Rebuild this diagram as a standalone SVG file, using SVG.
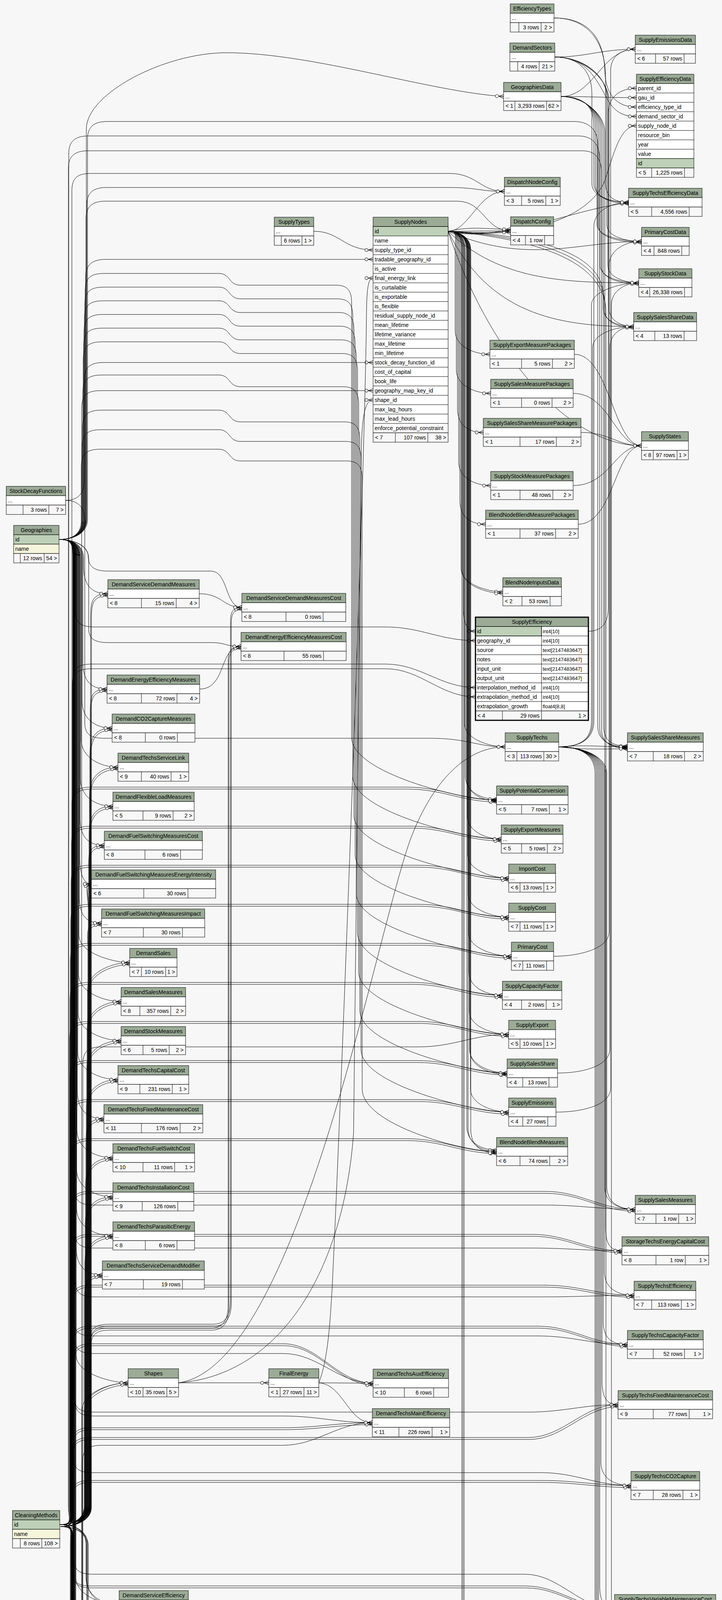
<svg xmlns="http://www.w3.org/2000/svg" width="1848" height="5893" viewBox="0 0 1848 5893">
<style>
.n rect{stroke:#000;stroke-width:1}
.n text{font-family:"Liberation Sans",Arial,Helvetica,sans-serif;font-size:14px;fill:#000}
.n path{fill:none;stroke:#000;stroke-width:1}
.h{fill:#9bab96}.b{fill:#fff}.f{fill:#f7f7f7}.k{fill:#bed1b8}.i{fill:#f5f5dc}
.c{text-anchor:middle}.r{text-anchor:end}
.n .o{fill:none;stroke-width:3}
.n .ty{font-size:13px}
.gen{font-family:"Liberation Sans",Arial,Helvetica,sans-serif;font-size:14px;fill:#000}
</style>
<defs>
<marker id="m" markerUnits="userSpaceOnUse" markerWidth="30" markerHeight="20" refX="24" refY="10" orient="auto" overflow="visible"><path d="M11 10H24M12 10L24 5M12 10L24 15" fill="none" stroke="#000" stroke-width="1"/><circle cx="7" cy="10" r="4" fill="#fff" stroke="#000" stroke-width="1"/></marker>
</defs>
<rect width="1848" height="5893" fill="#f7f7f7"/>
<g id="connectors" fill="none" stroke="#000" stroke-width="1" marker-end="url(#m)">
<g id="cm2">
<path d="M153 3903C188 3903 232 3889 232 3854L232 1590C232 1545 231 1520 276 1520"/>
<path d="M153 3903C188 3903 231 3889 231 3854L231 1834C231 1789 229 1764 274 1764"/>
<path d="M153 3903C188 3903 230 3889 230 3854L230 1934C230 1889 242 1864 287 1864"/>
<path d="M153 3903C188 3903 229 3889 229 3854L229 2034C229 1989 257 1964 302 1964"/>
<path d="M153 3903C188 3903 228 3889 228 3854L228 2134C228 2089 244 2064 289 2064"/>
<path d="M153 3903C188 3903 227 3889 227 3854L227 2234C227 2189 222 2164 267 2164"/>
<path d="M153 3903C188 3903 226 3889 226 3854L226 2333C226 2288 214 2263 234 2263"/>
<path d="M153 3903C188 3903 225 3889 225 3854L225 2433C225 2388 215 2363 260 2363"/>
<path d="M153 3903C188 3903 224 3889 224 3854L224 2534C224 2489 287 2464 332 2464"/>
<path d="M153 3903C188 3903 223 3889 223 3854L223 2634C223 2589 265 2564 310 2564"/>
<path d="M153 3903C188 3903 222 3889 222 3854L222 2734C222 2689 265 2664 310 2664"/>
<path d="M153 3903C188 3903 221 3889 221 3854L221 2834C221 2789 257 2764 302 2764"/>
<path d="M153 3903C188 3903 220 3889 220 3854L220 2934C220 2889 221 2864 266 2864"/>
<path d="M153 3903C188 3903 219 3889 219 3854L219 3034C219 2989 244 2964 289 2964"/>
<path d="M153 3903C188 3903 218 3889 218 3854L218 3134C218 3089 244 3064 289 3064"/>
<path d="M153 3903C188 3903 217 3889 217 3854L217 3234C217 3189 244 3164 289 3164"/>
<path d="M153 3903C188 3903 216 3889 216 3854L216 3334C216 3289 217 3264 262 3264"/>
<path d="M153 3903C188 3903 216 3889 216 3854L216 3610C216 3565 283 3540 328 3540"/>
<path d="M153 3903C188 3903 220 3917 220 3952L220 4038C220 4083 260 4108 305 4108"/>
<path d="M153 3903C188 3903 224 3917 224 3952L224 4950C224 4995 283 5020 328 5020"/>
<path d="M153 3903C188 3903 184 3889 184 3854L184 2060C184 2025 199 2015 234 2015L1041 2015C1131 2015 1181 2048 1271 2048"/>
<path d="M153 3903C188 3903 183 3889 183 3854L183 2160C183 2125 198 2115 233 2115L1053 2115C1143 2115 1193 2148 1283 2148"/>
<path d="M153 3903C188 3903 182 3889 182 3854L182 2260C182 2225 197 2215 232 2215L1072 2215C1162 2215 1212 2248 1302 2248"/>
<path d="M153 3903C188 3903 181 3889 181 3854L181 2360C181 2325 196 2315 231 2315L1072 2315C1162 2315 1212 2348 1302 2348"/>
<path d="M153 3903C188 3903 180 3889 180 3854L180 2460C180 2425 195 2415 230 2415L1079 2415C1169 2415 1219 2448 1309 2448"/>
<path d="M153 3903C188 3903 179 3889 179 3854L179 2560C179 2525 194 2515 229 2515L1056 2515C1146 2515 1196 2548 1286 2548"/>
<path d="M153 3903C188 3903 178 3889 178 3854L178 2660C178 2625 193 2615 228 2615L1072 2615C1162 2615 1212 2648 1302 2648"/>
<path d="M153 3903C188 3903 179 3889 179 3854L179 2760C179 2725 194 2715 229 2715L1068 2715C1158 2715 1208 2747 1298 2747"/>
<path d="M153 3903C188 3903 180 3889 180 3854L180 2860C180 2825 195 2815 230 2815L1072 2815C1162 2815 1212 2847 1302 2847"/>
<path d="M153 3903C188 3903 181 3889 181 3854L181 2960C181 2925 196 2915 231 2915L1041 2915C1131 2915 1181 2948 1271 2948"/>
<path d="M153 3903C188 3903 182 3889 182 3854L182 3095C182 3060 197 3050 232 3050L1396 3050C1486 3050 1536 3096 1626 3096"/>
<path d="M153 3903C188 3903 183 3889 183 3854L183 3205C183 3170 198 3160 233 3160L1362 3160C1452 3160 1502 3202 1592 3202"/>
<path d="M153 3903C188 3903 184 3889 184 3854L184 3335C184 3300 199 3290 234 3290L1393 3290C1483 3290 1533 3316 1623 3316"/>
<path d="M153 3903C188 3903 185 3889 185 3854L185 3440C185 3405 200 3395 235 3395L1376 3395C1466 3395 1516 3442 1606 3442"/>
<path d="M153 3903C188 3903 186 3889 186 3854L186 3485C186 3450 201 3440 236 3440L725 3440C815 3440 865 3541 955 3541"/>
<path d="M153 3903C188 3903 184 3889 184 3854L184 3700C184 3665 199 3655 234 3655L723 3655C813 3655 863 3642 953 3642"/>
<path d="M153 3903C188 3903 183 3889 183 3854L183 3725C183 3690 198 3680 233 3680L1352 3680C1442 3680 1492 3596 1582 3596"/>
<path d="M153 3903C188 3903 182 3889 182 3854L182 3835C182 3800 197 3790 232 3790L1385 3790C1475 3790 1525 3803 1615 3803"/>
<path d="M153 3903C188 3903 183 3917 183 3952L183 4015C183 4050 198 4060 233 4060L1343 4060C1433 4060 1483 4118 1573 4118"/>
<path d="M153 3903C188 3903 184 3917 184 3952L184 4630C184 4665 199 4675 234 4675L1376 4675C1466 4675 1516 4649 1606 4649"/>
<path d="M153 3903C188 3903 185 3917 185 3952L185 4835C185 4870 200 4880 235 4880L435 4880C525 4880 575 4901 665 4901"/>
<path d="M153 3903C188 3903 186 3917 186 3952L186 4940C186 4975 201 4985 236 4985L434 4985C524 4985 574 5004 664 5004"/>
<path d="M153 3903C188 3903 180 3917 180 3952L180 4205C180 4240 195 4250 230 4250L1470 4250C1505 4250 1518 4265 1518 4300L1518 5012C1518 5052 1581 5072 1626 5072"/>
<path d="M153 3903C188 3903 181 3917 181 3952L181 5065C181 5100 196 5110 231 5110L458 5110C548 5110 598 5104 688 5104"/>
<path d="M153 3903C188 3903 182 3917 182 3952L182 5135C182 5170 197 5180 232 5180L1079 5180C1169 5180 1219 5159 1309 5159"/>
<path d="M153 3903C188 3903 183 3917 183 3952L183 4295C183 4330 198 4340 233 4340L1465 4340C1500 4340 1512 4355 1512 4390L1512 5153C1512 5193 1546 5213 1586 5213"/>
<path d="M153 3903C188 3903 184 3917 184 3952L184 5285C184 5320 199 5330 234 5330L1072 5330C1162 5330 1212 5312 1302 5312"/>
<path d="M153 3903C188 3903 185 3917 185 3952L185 5445C185 5480 200 5490 235 5490L1072 5490C1162 5490 1212 5469 1302 5469"/>
<path d="M153 3903C188 3903 186 3917 186 3952L186 4395C186 4430 201 4440 236 4440L1460 4440C1495 4440 1508 4455 1508 4490L1508 5615C1508 5655 1574 5675 1619 5675"/>
<path d="M153 3903C188 3903 230 3889 230 3854L230 3430C230 3400 245 3390 280 3390L545 3390C575 3390 590 3370 590 3330L590 1590C590 1565 597 1555 619 1555"/>
<path d="M153 3903C188 3903 231 3889 231 3854L231 3440C231 3410 246 3400 281 3400L540 3400C570 3400 584 3380 584 3340L584 1690C584 1665 593 1655 617 1655"/>
</g>
<use href="#cm2" transform="translate(2 5)"/>
<path d="M153 3903C188 3903 222 3917 222 3952L222 4502C222 4547 257 4572 302 4572"/>
<path d="M153 3903C188 3903 186 3889 186 3854L186 1745C186 1710 201 1700 236 1700L987 1700C1077 1700 1127 1760 1217 1760"/>
<path d="M153 3903C188 3903 185 3889 185 3854L185 1757C185 1722 200 1712 235 1712L987 1712C1077 1712 1127 1784 1217 1784"/>
<path d="M153 3903C188 3903 184 3889 184 3854L184 489C184 454 199 444 234 444L1150 444C1220 444 1230 490 1291 490"/>
<path d="M153 3903C188 3903 176 3889 176 3854L176 393C176 363 191 348 226 348L1480 348C1515 348 1535 368 1535 408L1535 1865C1535 1898 1565 1914 1606 1914"/>
<path d="M153 3903C188 3903 175 3889 175 3854L175 431C175 401 190 386 225 386L1490 386C1525 386 1540 406 1540 446L1540 1870C1540 1903 1570 1916 1606 1916"/>
<path d="M151 1381C186 1381 214 1395 214 1430L214 1450C214 1495 231 1520 276 1520"/>
<path d="M151 1381C186 1381 212 1395 212 1430L212 1694C212 1739 229 1764 274 1764"/>
<path d="M151 1381C186 1381 210 1395 210 1430L210 1794C210 1839 242 1864 287 1864"/>
<path d="M151 1381C186 1381 208 1395 208 1430L208 1894C208 1939 257 1964 302 1964"/>
<path d="M151 1381C186 1381 206 1395 206 1430L206 1994C206 2039 244 2064 289 2064"/>
<path d="M151 1381C186 1381 205 1395 205 1430L205 2094C205 2139 222 2164 267 2164"/>
<path d="M151 1381C186 1381 204 1395 204 1430L204 2193C204 2238 214 2263 234 2263"/>
<path d="M151 1381C186 1381 203 1395 203 1430L203 2293C203 2338 215 2363 260 2363"/>
<path d="M151 1381C186 1381 202 1395 202 1430L202 2394C202 2439 287 2464 332 2464"/>
<path d="M151 1381C186 1381 201 1395 201 1430L201 2494C201 2539 265 2564 310 2564"/>
<path d="M151 1381C186 1381 200 1395 200 1430L200 2594C200 2639 265 2664 310 2664"/>
<path d="M151 1381C186 1381 199 1395 199 1430L199 2694C199 2739 257 2764 302 2764"/>
<path d="M151 1381C186 1381 198 1395 198 1430L198 2794C198 2839 221 2864 266 2864"/>
<path d="M151 1381C186 1381 197 1395 197 1430L197 2894C197 2939 244 2964 289 2964"/>
<path d="M151 1381C186 1381 196 1395 196 1430L196 2994C196 3039 244 3064 289 3064"/>
<path d="M151 1381C186 1381 196 1395 196 1430L196 3094C196 3139 244 3164 289 3164"/>
<path d="M151 1381C186 1381 195 1395 195 1430L195 3194C195 3239 217 3264 262 3264"/>
<path d="M151 1381C186 1381 195 1395 195 1430L195 3470C195 3515 283 3540 328 3540"/>
<path d="M151 1381C186 1381 194 1395 194 1430L194 4038C194 4083 260 4108 305 4108"/>
<path d="M151 1381C186 1381 194 1395 194 1430L194 4502C194 4547 257 4572 302 4572"/>
<path d="M151 1381C186 1381 193 1395 193 1430L193 4950C193 4995 283 5020 328 5020"/>
<path d="M151 1381C186 1381 192 1395 192 1430L192 1560C192 1595 207 1605 242 1605L987 1605C1077 1605 1127 1640 1217 1640"/>
<path d="M151 1381C186 1381 218 1367 218 1332L218 745C218 710 233 700 268 700L560 700C590 700 585 730 615 730L860 730C890 730 900 745 900 775L900 1888C900 1978 1181 2048 1271 2048"/>
<path d="M151 1381C186 1381 217 1367 217 1332L217 780C217 745 232 735 267 735L560 735C590 735 585 765 615 765L863 765C893 765 903 780 903 810L903 1988C903 2078 1193 2148 1283 2148"/>
<path d="M151 1381C186 1381 216 1367 216 1332L216 815C216 780 231 770 266 770L560 770C590 770 585 800 615 800L866 800C896 800 906 815 906 845L906 2088C906 2178 1212 2248 1302 2248"/>
<path d="M151 1381C186 1381 215 1367 215 1332L215 850C215 815 230 805 265 805L560 805C590 805 585 835 615 835L869 835C899 835 909 850 909 880L909 2188C909 2278 1212 2348 1302 2348"/>
<path d="M151 1381C186 1381 214 1367 214 1332L214 885C214 850 229 840 264 840L560 840C590 840 585 870 615 870L872 870C902 870 912 885 912 915L912 2288C912 2378 1219 2448 1309 2448"/>
<path d="M151 1381C186 1381 213 1367 213 1332L213 920C213 885 228 875 263 875L560 875C590 875 585 905 615 905L875 905C905 905 915 920 915 950L915 2388C915 2478 1196 2548 1286 2548"/>
<path d="M151 1381C186 1381 212 1367 212 1332L212 1005C212 970 227 960 262 960L560 960C590 960 585 990 615 990L878 990C908 990 918 1005 918 1035L918 2488C918 2578 1212 2648 1302 2648"/>
<path d="M151 1381C186 1381 211 1367 211 1332L211 1095C211 1060 226 1050 261 1050L560 1050C590 1050 585 1080 615 1080L881 1080C911 1080 921 1095 921 1125L921 2587C921 2677 1208 2747 1298 2747"/>
<path d="M151 1381C186 1381 210 1367 210 1332L210 1145C210 1110 225 1100 260 1100L560 1100C590 1100 585 1130 615 1130L884 1130C914 1130 924 1145 924 1175L924 2687C924 2777 1212 2847 1302 2847"/>
<path d="M151 1381C186 1381 208 1367 208 1332L208 1195C208 1160 223 1150 258 1150L560 1150C590 1150 585 1180 615 1180L887 1180C917 1180 927 1195 927 1225L927 2788C927 2878 1181 2948 1271 2948"/>
<path d="M151 1381C186 1381 190 1395 190 1430L190 3040C190 3075 205 3085 240 3085L1396 3085C1486 3085 1536 3096 1626 3096"/>
<path d="M151 1381C186 1381 191 1395 191 1430L191 3150C191 3185 206 3195 241 3195L1362 3195C1452 3195 1502 3202 1592 3202"/>
<path d="M151 1381C186 1381 192 1395 192 1430L192 3275C192 3310 207 3320 242 3320L1393 3320C1483 3320 1533 3316 1623 3316"/>
<path d="M151 1381C186 1381 188 1395 188 1430L188 3375C188 3410 203 3420 238 3420L1376 3420C1466 3420 1516 3442 1606 3442"/>
<path d="M151 1381C186 1381 190 1395 190 1430L190 3420C190 3455 205 3465 240 3465L725 3465C815 3465 865 3541 955 3541"/>
<path d="M151 1381C186 1381 189 1395 189 1430L189 3570C189 3605 204 3615 239 3615L1352 3615C1442 3615 1492 3596 1582 3596"/>
<path d="M151 1381C186 1381 191 1395 191 1430L191 3580C191 3615 206 3625 241 3625L723 3625C813 3625 863 3642 953 3642"/>
<path d="M151 1381C186 1381 187 1395 187 1430L187 3725C187 3760 202 3770 237 3770L1385 3770C1475 3770 1525 3803 1615 3803"/>
<path d="M151 1381C186 1381 188 1395 188 1430L188 3985C188 4020 203 4030 238 4030L1343 4030C1433 4030 1483 4118 1573 4118"/>
<path d="M151 1381C186 1381 189 1395 189 1430L189 4565C189 4600 204 4610 239 4610L1376 4610C1466 4610 1516 4649 1606 4649"/>
<path d="M151 1381C186 1381 190 1395 190 1430L190 4805C190 4840 205 4850 240 4850L435 4850C525 4850 575 4901 665 4901"/>
<path d="M151 1381C186 1381 191 1395 191 1430L191 4915C191 4950 206 4960 241 4960L434 4960C524 4960 574 5004 664 5004"/>
<path d="M151 1381C186 1381 186 1395 186 1430L186 4945C186 4980 201 4990 236 4990L1396 4990C1486 4990 1536 5072 1626 5072"/>
<path d="M151 1381C186 1381 192 1395 192 1430L192 5030C192 5065 207 5075 242 5075L458 5075C548 5075 598 5104 688 5104"/>
<path d="M151 1381C186 1381 187 1395 187 1430L187 5105C187 5140 202 5150 237 5150L1079 5150C1169 5150 1219 5159 1309 5159"/>
<path d="M151 1381C186 1381 188 1395 188 1430L188 5190C188 5225 203 5235 238 5235L1356 5235C1446 5235 1496 5213 1586 5213"/>
<path d="M151 1381C186 1381 189 1395 189 1430L189 5250C189 5285 204 5295 239 5295L1072 5295C1162 5295 1212 5312 1302 5312"/>
<path d="M151 1381C186 1381 190 1395 190 1430L190 5410C190 5445 205 5455 240 5455L1072 5455C1162 5455 1212 5469 1302 5469"/>
<path d="M151 1381C186 1381 191 1395 191 1430L191 5675C191 5710 206 5720 241 5720L1389 5720C1479 5720 1529 5675 1619 5675"/>
<path d="M151 1381C186 1381 221 1367 221 1330L221 330C221 240 420 135 580 135C800 135 1100 235 1289 247"/>
<path d="M151 1381C186 1381 219 1367 219 1330L219 710C219 680 234 664 270 664L955 664"/>
<path d="M151 1381C186 1381 222 1367 222 1330L222 525C222 495 237 480 272 480L1150 480C1220 480 1230 490 1291 490"/>
<path d="M151 1381C186 1381 220 1367 220 1330L220 560C220 530 235 515 270 515L1170 515C1240 515 1240 591 1307 591"/>
<path d="M151 1381C186 1381 224 1367 224 1330L224 356C224 326 239 311 274 311L1470 311C1505 311 1530 330 1530 370L1530 1860C1530 1895 1560 1912 1606 1912"/>
<path d="M151 1381C186 1381 226 1395 226 1425C226 1450 241 1462 276 1462L540 1462C585 1462 575 1555 619 1555"/>
<path d="M151 1381C186 1381 227 1395 227 1430L227 1610C227 1635 242 1645 277 1645L540 1645C580 1645 575 1655 617 1655"/>
<path d="M163 5368C198 5368 209 5354 209 5319L209 1045C209 1010 224 1000 259 1000L955 1000"/>
<path d="M163 5368C198 5368 210 5354 210 5319L210 3610C210 3565 283 3540 328 3540"/>
<path d="M163 5368C198 5368 211 5354 211 5319L211 3745C211 3710 226 3700 261 3700L723 3700C813 3700 863 3642 953 3642"/>
<path d="M163 5368C198 5368 212 5354 212 5319L212 2725C212 2690 227 2680 262 2680L1072 2680C1162 2680 1212 2648 1302 2648"/>
<path d="M163 5368C198 5368 213 5354 213 5319L213 4870C213 4835 228 4825 263 4825L435 4825C525 4825 575 4901 665 4901"/>
<path d="M163 5368C198 5368 214 5354 214 5319L214 4980C214 4945 229 4935 264 4935L434 4935C524 4935 574 5004 664 5004"/>
<path d="M163 5368C198 5368 215 5354 215 5319L215 5090C215 5045 283 5020 328 5020"/>
<path d="M163 5368C198 5368 216 5354 216 5319L216 5095C216 5060 231 5050 266 5050L458 5050C548 5050 598 5104 688 5104"/>
<path d="M163 5368C198 5368 217 5354 217 5319L217 5050C217 5015 232 5005 267 5005L1396 5005C1486 5005 1536 5072 1626 5072"/>
<path d="M163 5368C198 5368 218 5354 218 5319L218 5245C218 5210 233 5200 268 5200L1079 5200C1169 5200 1219 5159 1309 5159"/>
<path d="M163 5368C198 5368 219 5354 219 5319L219 5290C219 5255 234 5245 269 5245L1356 5245C1446 5245 1496 5213 1586 5213"/>
<path d="M163 5368C230 5368 240 5318 300 5318L1100 5318C1200 5318 1230 5312 1302 5312"/>
<path d="M163 5368C198 5368 221 5382 221 5417L221 5440C221 5460 236 5470 271 5470L1100 5470C1200 5470 1230 5469 1302 5469"/>
<path d="M163 5368C198 5368 222 5382 222 5417L222 5745C222 5780 237 5790 272 5790L1389 5790C1479 5790 1529 5675 1619 5675"/>
<path d="M168 1281C200 1281 216 1262 216 1230L216 970C216 940 231 928 266 928L955 928"/>
<path d="M168 1281C200 1281 217 1300 217 1330L217 1850C217 1880 232 1890 267 1890L1100 1890C1200 1890 1220 1912 1293 1912"/>
<path d="M1147 592C1200 592 1225 490 1291 490"/>
<path d="M1147 592C1210 592 1245 591 1307 591"/>
<path d="M1147 592C1210 578 1245 587 1307 587"/>
<path d="M1147 592C1210 606 1245 595 1307 595"/>
<path d="M1147 592C1350 610 1500 560 1545 470C1570 400 1585 322 1629 322"/>
<path d="M1147 592C1300 620 1480 530 1609 520"/>
<path d="M1147 592C1350 680 1480 618 1642 618"/>
<path d="M1147 592C1280 720 1450 724 1635 724"/>
<path d="M1147 592C1250 800 1420 836 1622 836"/>
<path d="M1147 592C1250 900 1450 1141 1642 1141"/>
<path d="M1147 592C1172 592 1165 605 1165 640L1165 847C1165 887 1214 907 1254 907"/>
<path d="M1147 592C1172 592 1168 605 1168 640L1168 947C1168 987 1216 1007 1256 1007"/>
<path d="M1147 592C1172 592 1171 605 1171 640L1171 1047C1171 1087 1197 1107 1237 1107"/>
<path d="M1147 592C1172 592 1174 605 1174 640L1174 1183C1174 1223 1216 1243 1256 1243"/>
<path d="M1147 592C1172 592 1177 605 1177 640L1177 1282C1177 1322 1203 1342 1243 1342"/>
<path d="M1147 592C1172 592 1180 605 1180 640L1180 1455C1180 1495 1247 1515 1287 1515"/>
<path d="M1147 592C1172 592 1183 605 1183 640L1183 1459C1183 1499 1247 1519 1287 1519"/>
<path d="M1147 592C1172 592 1186 605 1186 640L1186 1556C1186 1596 1196 1616 1217 1616"/>
<path d="M1147 592C1172 592 1189 605 1189 640L1189 1852C1189 1892 1253 1912 1293 1912"/>
<path d="M1147 592C1172 592 1191 605 1191 640L1191 1986C1191 2026 1231 2046 1271 2046"/>
<path d="M1147 592C1172 592 1194 605 1194 640L1194 1990C1194 2030 1231 2050 1271 2050"/>
<path d="M1147 592C1172 592 1196 605 1196 640L1196 2088C1196 2128 1243 2148 1283 2148"/>
<path d="M1147 592C1172 592 1197 605 1197 640L1197 2188C1197 2228 1262 2248 1302 2248"/>
<path d="M1147 592C1172 592 1198 605 1198 640L1198 2288C1198 2328 1262 2348 1302 2348"/>
<path d="M1147 592C1172 592 1199 605 1199 640L1199 2388C1199 2428 1269 2448 1309 2448"/>
<path d="M1147 592C1172 592 1200 605 1200 640L1200 2488C1200 2528 1246 2548 1286 2548"/>
<path d="M1147 592C1172 592 1201 605 1201 640L1201 2588C1201 2628 1262 2648 1302 2648"/>
<path d="M1147 592C1172 592 1202 605 1202 640L1202 2687C1202 2727 1258 2747 1298 2747"/>
<path d="M1147 592C1172 592 1203 605 1203 640L1203 2691C1203 2731 1258 2751 1298 2751"/>
<path d="M1147 592C1172 592 1204 605 1204 640L1204 2787C1204 2827 1262 2847 1302 2847"/>
<path d="M1147 592C1172 592 1195 605 1195 640L1195 2884C1195 2924 1231 2944 1271 2944"/>
<path d="M1147 592C1172 592 1198 605 1198 640L1198 2888C1198 2928 1231 2948 1271 2948"/>
<path d="M1147 592C1172 592 1205 605 1205 640L1205 2892C1205 2932 1231 2952 1271 2952"/>
<path d="M1147 592C1172 592 1188 605 1188 640L1188 5099C1188 5139 1269 5159 1309 5159"/>
<path d="M1147 592C1172 592 1185 605 1185 640L1185 5252C1185 5292 1262 5312 1302 5312"/>
<path d="M1147 592C1172 592 1182 605 1182 640L1182 5409C1182 5449 1262 5469 1302 5469"/>
<path d="M1147 592C1350 600 1545 640 1545 760L1545 1860C1545 1898 1570 1910 1606 1910"/>
<path d="M1147 592C1350 605 1548 650 1548 780L1548 3040C1548 3080 1585 3096 1626 3096"/>
<path d="M1147 592C1350 610 1551 660 1551 800L1551 5010C1551 5050 1590 5072 1626 5072"/>
<path d="M1436 247C1520 247 1540 126 1626 126"/>
<path d="M1436 247C1500 247 1560 250 1629 250"/>
<path d="M1436 247C1490 247 1520 270 1520 320L1520 470C1520 505 1565 518 1609 518"/>
<path d="M1436 247C1490 247 1524 272 1524 322L1524 475C1524 508 1568 521 1609 521"/>
<path d="M1436 247C1490 247 1528 275 1528 325L1528 575C1528 605 1595 618 1642 618"/>
<path d="M1436 247C1490 247 1532 278 1532 328L1532 580C1532 610 1600 621 1642 621"/>
<path d="M1436 247C1490 247 1536 280 1536 330L1536 680C1536 710 1590 724 1635 724"/>
<path d="M1436 247C1490 247 1540 283 1540 333L1540 685C1540 715 1595 727 1635 727"/>
<path d="M1436 247C1490 247 1544 286 1544 336L1544 790C1544 820 1580 836 1622 836"/>
<path d="M1436 247C1490 247 1548 289 1548 339L1548 795C1548 825 1585 839 1622 839"/>
<path d="M1420 146C1500 146 1540 126 1626 126"/>
<path d="M1420 146C1500 146 1525 200 1555 255C1575 288 1595 298 1629 298"/>
<path d="M1420 146C1480 146 1515 180 1515 240L1515 470C1515 505 1565 518 1609 518"/>
<path d="M1420 146C1490 146 1553 190 1553 250L1553 575C1553 605 1600 618 1642 618"/>
<path d="M1420 146C1490 146 1556 195 1556 255L1556 680C1556 710 1600 724 1635 724"/>
<path d="M1420 146C1490 146 1559 200 1559 260L1559 790C1559 820 1590 836 1622 836"/>
<path d="M1418 46C1500 46 1545 90 1548 180C1550 245 1580 274 1629 274"/>
<path d="M1418 46C1500 46 1550 100 1550 200L1550 470C1550 505 1575 518 1609 518"/>
<path d="M1430 1912C1490 1912 1520 1890 1520 1845L1520 580C1520 540 1565 518 1609 518"/>
<path d="M1430 1912C1500 1906 1540 1912 1606 1912"/>
<path d="M1430 1912C1500 1920 1540 1917 1606 1917"/>
<path d="M1430 1912C1490 1912 1553 1935 1553 1980L1553 3036C1553 3076 1581 3096 1626 3096"/>
<path d="M1430 1912C1490 1912 1550 1935 1550 1980L1550 3142C1550 3182 1560 3202 1592 3202"/>
<path d="M1430 1912C1490 1912 1547 1935 1547 1980L1547 3256C1547 3296 1578 3316 1623 3316"/>
<path d="M1430 1912C1490 1912 1544 1935 1544 1980L1544 3382C1544 3422 1561 3442 1606 3442"/>
<path d="M1430 1912C1490 1912 1541 1935 1541 1980L1541 3536C1541 3576 1552 3596 1582 3596"/>
<path d="M1430 1912C1490 1912 1538 1935 1538 1980L1538 3743C1538 3783 1570 3803 1615 3803"/>
<path d="M1430 1912C1490 1912 1535 1935 1535 1980L1535 4058C1535 4098 1545 4118 1573 4118"/>
<path d="M1430 1912C1490 1912 1532 1935 1532 1980L1532 4589C1532 4629 1561 4649 1606 4649"/>
<path d="M1430 1912C1490 1912 1529 1935 1529 1980L1529 5012C1529 5052 1581 5072 1626 5072"/>
<path d="M1430 1912C1490 1912 1526 1935 1526 1980L1526 5153C1526 5193 1546 5213 1586 5213"/>
<path d="M1430 1912C1490 1912 1523 1935 1523 1980L1523 5615C1523 5655 1574 5675 1619 5675"/>
<path d="M1430 1912C1490 1912 1517 1890 1517 1845L1517 890C1517 855 1575 836 1622 836"/>
<path d="M1430 1912C1490 1912 1514 1890 1514 1845L1514 780C1514 745 1590 724 1635 724"/>
<path d="M1506 1616C1540 1616 1557 1595 1557 1555L1557 290C1557 245 1590 226 1629 226"/>
<path d="M1417 2448C1480 2448 1559 2430 1559 2385L1559 680C1559 640 1600 618 1642 618"/>
<path d="M1427 2747C1490 2747 1561 2730 1561 2685L1561 890C1561 855 1590 836 1622 836"/>
<path d="M1423 2847C1490 2847 1563 2830 1563 2785L1563 180C1563 145 1590 126 1626 126"/>
<path d="M1417 5159C1480 5159 1565 5140 1565 5095L1565 780C1565 745 1600 724 1635 724"/>
<path d="M1470 907C1560 907 1570 1141 1642 1141"/>
<path d="M1467 1007C1560 1007 1575 1141 1642 1141"/>
<path d="M1487 1107C1560 1107 1580 1141 1642 1141"/>
<path d="M1467 1243C1560 1243 1575 1141 1642 1141"/>
<path d="M1480 1342C1570 1342 1575 1141 1642 1141"/>
<path d="M803 592C870 592 880 640 955 640"/>
<path d="M457 3540L688 3540"/>
<path d="M457 3540C720 3520 880 3250 905 2900L925 1150C927 1060 935 1024 955 1024"/>
<path d="M457 3540C760 3500 960 2400 1050 2150C1110 1990 1200 1912 1293 1912"/>
<path d="M816 3540L955 3541"/>
<path d="M816 3540C880 3545 890 3642 953 3642"/>
<path d="M816 3540C840 3480 845 3380 850 3300C870 2900 935 1200 938 800C939 740 942 712 955 712"/>
<path d="M510 1520C570 1520 570 1555 619 1555"/>
<path d="M511 1764C580 1764 560 1655 617 1655"/>
<path d="M457 5020C540 5020 580 4901 665 4901"/>
<path d="M457 5020C560 5016 600 4903 665 4903"/>
<path d="M457 5020C580 5024 610 4899 665 4899"/>
<path d="M457 5020C600 5020 620 4905 665 4905"/>
<path d="M457 5020C540 5020 580 5004 664 5004"/>
<path d="M457 5020C560 5010 600 5006 664 5006"/>
<path d="M457 5020C580 5028 610 5002 664 5002"/>
<path d="M457 5020C600 5015 620 5008 664 5008"/>
<path d="M457 5020C540 5020 600 5104 688 5104"/>
<path d="M457 5020C560 5024 620 5106 688 5106"/>
<path d="M457 5020C580 5030 640 5102 688 5102"/>
<path d="M457 5020C600 5026 650 5108 688 5108"/>
</g>
<g id="tables" class="n">
<g id="EfficiencyTypes" transform="translate(1306 10)"><rect class="h" width="112" height="24"/><rect class="b" y="24" width="112" height="24"/><rect class="f" y="48" width="112" height="24"/><path d="M22 48v24M79 48v24"/><text class="c" x="56" y="17">EfficiencyTypes</text><text x="4" y="41">...</text><text class="r" x="74" y="65">3 rows</text><text class="r" x="107" y="65">2 &gt;</text></g>
<g id="DemandSectors" transform="translate(1305 110)"><rect class="h" width="115" height="24"/><rect class="b" y="24" width="115" height="24"/><rect class="f" y="48" width="115" height="24"/><path d="M20 48v24M75 48v24"/><text class="c" x="57.5" y="17">DemandSectors</text><text x="4" y="41">...</text><text class="r" x="70" y="65">4 rows</text><text class="r" x="110" y="65">21 &gt;</text></g>
<g id="GeographiesData" transform="translate(1289 211)"><rect class="h" width="147" height="24"/><rect class="b" y="24" width="147" height="24"/><rect class="f" y="48" width="147" height="24"/><path d="M29 48v24M110 48v24"/><text class="c" x="73.5" y="17">GeographiesData</text><text x="4" y="41">...</text><text x="5" y="65">&lt; 1</text><text class="r" x="105" y="65">3,293 rows</text><text class="r" x="142" y="65">62 &gt;</text></g>
<g id="DispatchNodeConfig" transform="translate(1291 454)"><rect class="h" width="143" height="24"/><rect class="b" y="24" width="143" height="24"/><rect class="f" y="48" width="143" height="24"/><path d="M44 48v24M106 48v24"/><text class="c" x="71.5" y="17">DispatchNodeConfig</text><text x="4" y="41">...</text><text x="5" y="65">&lt; 3</text><text class="r" x="101" y="65">5 rows</text><text class="r" x="138" y="65">1 &gt;</text></g>
<g id="DispatchConfig" transform="translate(1307 555)"><rect class="h" width="110" height="24"/><rect class="b" y="24" width="110" height="24"/><rect class="f" y="48" width="110" height="24"/><path d="M38 48v24M87 48v24"/><text class="c" x="55" y="17">DispatchConfig</text><text x="4" y="41">...</text><text x="5" y="65">&lt; 4</text><text class="r" x="82" y="65">1 row</text></g>
<g id="SupplyExportMeasurePackages" transform="translate(1254 871)"><rect class="h" width="216" height="24"/><rect class="b" y="24" width="216" height="24"/><rect class="f" y="48" width="216" height="24"/><path d="M81 48v24M160 48v24"/><text class="c" x="108" y="17">SupplyExportMeasurePackages</text><text x="4" y="41">...</text><text x="5" y="65">&lt; 1</text><text class="r" x="155" y="65">5 rows</text><text class="r" x="211" y="65">2 &gt;</text></g>
<g id="SupplySalesMeasurePackages" transform="translate(1256 971)"><rect class="h" width="211" height="24"/><rect class="b" y="24" width="211" height="24"/><rect class="f" y="48" width="211" height="24"/><path d="M79 48v24M157 48v24"/><text class="c" x="105.5" y="17">SupplySalesMeasurePackages</text><text x="4" y="41">...</text><text x="5" y="65">&lt; 1</text><text class="r" x="152" y="65">0 rows</text><text class="r" x="206" y="65">2 &gt;</text></g>
<g id="SupplySalesShareMeasurePackages" transform="translate(1237 1071)"><rect class="h" width="250" height="24"/><rect class="b" y="24" width="250" height="24"/><rect class="f" y="48" width="250" height="24"/><path d="M94 48v24M187 48v24"/><text class="c" x="125" y="17">SupplySalesShareMeasurePackages</text><text x="4" y="41">...</text><text x="5" y="65">&lt; 1</text><text class="r" x="182" y="65">17 rows</text><text class="r" x="245" y="65">2 &gt;</text></g>
<g id="SupplyStockMeasurePackages" transform="translate(1256 1207)"><rect class="h" width="211" height="24"/><rect class="b" y="24" width="211" height="24"/><rect class="f" y="48" width="211" height="24"/><path d="M75 48v24M159 48v24"/><text class="c" x="105.5" y="17">SupplyStockMeasurePackages</text><text x="4" y="41">...</text><text x="5" y="65">&lt; 1</text><text class="r" x="154" y="65">48 rows</text><text class="r" x="206" y="65">2 &gt;</text></g>
<g id="BlendNodeBlendMeasurePackages" transform="translate(1243 1306)"><rect class="h" width="237" height="24"/><rect class="b" y="24" width="237" height="24"/><rect class="f" y="48" width="237" height="24"/><path d="M88 48v24M179 48v24"/><text class="c" x="118.5" y="17">BlendNodeBlendMeasurePackages</text><text x="4" y="41">...</text><text x="5" y="65">&lt; 1</text><text class="r" x="174" y="65">37 rows</text><text class="r" x="232" y="65">2 &gt;</text></g>
<g id="BlendNodeInputsData" transform="translate(1287 1479)"><rect class="h" width="150" height="24"/><rect class="b" y="24" width="150" height="24"/><rect class="f" y="48" width="150" height="24"/><path d="M49 48v24M121 48v24"/><text class="c" x="75" y="17">BlendNodeInputsData</text><text x="4" y="41">...</text><text x="5" y="65">&lt; 2</text><text class="r" x="116" y="65">53 rows</text></g>
<g id="SupplyEfficiency" transform="translate(1217 1580)"><rect class="h" width="289" height="24"/><rect class="b" y="24" width="289" height="216"/><rect class="k" y="24" width="169" height="24"/><rect class="f" y="240" width="289" height="24"/><path d="M0 48h289M0 72h289M0 96h289M0 120h289M0 144h289M0 168h289M0 192h289M0 216h289M169 24v216M69 240v24M169 240v24"/><text class="c" x="144.5" y="17">SupplyEfficiency</text><text x="4" y="41">id</text><text class="ty" x="172" y="41">int4[10]</text><text x="4" y="65">geography_id</text><text class="ty" x="172" y="65">int4[10]</text><text x="4" y="89">source</text><text class="ty" x="172" y="89">text[2147483647]</text><text x="4" y="113">notes</text><text class="ty" x="172" y="113">text[2147483647]</text><text x="4" y="137">input_unit</text><text class="ty" x="172" y="137">text[2147483647]</text><text x="4" y="161">output_unit</text><text class="ty" x="172" y="161">text[2147483647]</text><text x="4" y="185">interpolation_method_id</text><text class="ty" x="172" y="185">int4[10]</text><text x="4" y="209">extrapolation_method_id</text><text class="ty" x="172" y="209">int4[10]</text><text x="4" y="233">extrapolation_growth</text><text class="ty" x="172" y="233">float4[8,8]</text><text x="5" y="257">&lt; 4</text><text class="r" x="164" y="257">29 rows</text><text class="r" x="283" y="257">1 &gt;</text><rect class="o" width="289" height="264"/></g>
<g id="SupplyTechs" transform="translate(1293 1876)"><rect class="h" width="137" height="24"/><rect class="b" y="24" width="137" height="24"/><rect class="f" y="48" width="137" height="24"/><path d="M30 48v24M99 48v24"/><text class="c" x="68.5" y="17">SupplyTechs</text><text x="4" y="41">...</text><text x="5" y="65">&lt; 3</text><text class="r" x="94" y="65">113 rows</text><text class="r" x="132" y="65">30 &gt;</text></g>
<g id="SupplyPotentialConversion" transform="translate(1271 2012)"><rect class="h" width="183" height="24"/><rect class="b" y="24" width="183" height="24"/><rect class="f" y="48" width="183" height="24"/><path d="M64 48v24M135 48v24"/><text class="c" x="91.5" y="17">SupplyPotentialConversion</text><text x="4" y="41">...</text><text x="5" y="65">&lt; 5</text><text class="r" x="130" y="65">7 rows</text><text class="r" x="178" y="65">1 &gt;</text></g>
<g id="SupplyExportMeasures" transform="translate(1283 2112)"><rect class="h" width="158" height="24"/><rect class="b" y="24" width="158" height="24"/><rect class="f" y="48" width="158" height="24"/><path d="M52 48v24M118 48v24"/><text class="c" x="79" y="17">SupplyExportMeasures</text><text x="4" y="41">...</text><text x="5" y="65">&lt; 5</text><text class="r" x="113" y="65">5 rows</text><text class="r" x="153" y="65">2 &gt;</text></g>
<g id="ImportCost" transform="translate(1302 2212)"><rect class="h" width="120" height="24"/><rect class="b" y="24" width="120" height="24"/><rect class="f" y="48" width="120" height="24"/><path d="M29 48v24M90 48v24"/><text class="c" x="60" y="17">ImportCost</text><text x="4" y="41">...</text><text x="5" y="65">&lt; 6</text><text class="r" x="85" y="65">13 rows</text><text class="r" x="115" y="65">1 &gt;</text></g>
<g id="SupplyCost" transform="translate(1302 2312)"><rect class="h" width="120" height="24"/><rect class="b" y="24" width="120" height="24"/><rect class="f" y="48" width="120" height="24"/><path d="M29 48v24M90 48v24"/><text class="c" x="60" y="17">SupplyCost</text><text x="4" y="41">...</text><text x="5" y="65">&lt; 7</text><text class="r" x="85" y="65">11 rows</text><text class="r" x="115" y="65">1 &gt;</text></g>
<g id="PrimaryCost" transform="translate(1309 2412)"><rect class="h" width="108" height="24"/><rect class="b" y="24" width="108" height="24"/><rect class="f" y="48" width="108" height="24"/><path d="M29 48v24M90 48v24"/><text class="c" x="54" y="17">PrimaryCost</text><text x="4" y="41">...</text><text x="5" y="65">&lt; 7</text><text class="r" x="85" y="65">11 rows</text></g>
<g id="SupplyCapacityFactor" transform="translate(1286 2512)"><rect class="h" width="152" height="24"/><rect class="b" y="24" width="152" height="24"/><rect class="f" y="48" width="152" height="24"/><path d="M49 48v24M112 48v24"/><text class="c" x="76" y="17">SupplyCapacityFactor</text><text x="4" y="41">...</text><text x="5" y="65">&lt; 4</text><text class="r" x="107" y="65">2 rows</text><text class="r" x="147" y="65">1 &gt;</text></g>
<g id="SupplyExport" transform="translate(1302 2612)"><rect class="h" width="120" height="24"/><rect class="b" y="24" width="120" height="24"/><rect class="f" y="48" width="120" height="24"/><path d="M29 48v24M90 48v24"/><text class="c" x="60" y="17">SupplyExport</text><text x="4" y="41">...</text><text x="5" y="65">&lt; 5</text><text class="r" x="85" y="65">10 rows</text><text class="r" x="115" y="65">1 &gt;</text></g>
<g id="SupplySalesShare" transform="translate(1298 2711)"><rect class="h" width="129" height="24"/><rect class="b" y="24" width="129" height="24"/><rect class="f" y="48" width="129" height="24"/><path d="M40 48v24M107 48v24"/><text class="c" x="64.5" y="17">SupplySalesShare</text><text x="4" y="41">...</text><text x="5" y="65">&lt; 4</text><text class="r" x="102" y="65">13 rows</text></g>
<g id="SupplyEmissions" transform="translate(1302 2811)"><rect class="h" width="121" height="24"/><rect class="b" y="24" width="121" height="24"/><rect class="f" y="48" width="121" height="24"/><path d="M36 48v24M100 48v24"/><text class="c" x="60.5" y="17">SupplyEmissions</text><text x="4" y="41">...</text><text x="5" y="65">&lt; 4</text><text class="r" x="95" y="65">27 rows</text></g>
<g id="BlendNodeBlendMeasures" transform="translate(1271 2912)"><rect class="h" width="182" height="24"/><rect class="b" y="24" width="182" height="24"/><rect class="f" y="48" width="182" height="24"/><path d="M60 48v24M136 48v24"/><text class="c" x="91" y="17">BlendNodeBlendMeasures</text><text x="4" y="41">...</text><text x="5" y="65">&lt; 6</text><text class="r" x="131" y="65">74 rows</text><text class="r" x="177" y="65">2 &gt;</text></g>
<g id="SupplyStock" transform="translate(1309 5123)"><rect class="h" width="108" height="24"/><rect class="b" y="24" width="108" height="24"/><rect class="f" y="48" width="108" height="24"/><path d="M29 48v24M90 48v24"/><text class="c" x="54" y="17">SupplyStock</text><text x="4" y="41">...</text><text x="5" y="65">&lt; 5</text><text class="r" x="85" y="65">23 rows</text></g>
<g id="SupplySales" transform="translate(1302 5276)"><rect class="h" width="120" height="24"/><rect class="b" y="24" width="120" height="24"/><rect class="f" y="48" width="120" height="24"/><path d="M29 48v24M90 48v24"/><text class="c" x="60" y="17">SupplySales</text><text x="4" y="41">...</text><text x="5" y="65">&lt; 5</text><text class="r" x="85" y="65">17 rows</text><text class="r" x="115" y="65">1 &gt;</text></g>
<g id="SupplyPotential" transform="translate(1302 5433)"><rect class="h" width="120" height="24"/><rect class="b" y="24" width="120" height="24"/><rect class="f" y="48" width="120" height="24"/><path d="M29 48v24M90 48v24"/><text class="c" x="60" y="17">SupplyPotential</text><text x="4" y="41">...</text><text x="5" y="65">&lt; 6</text><text class="r" x="85" y="65">14 rows</text><text class="r" x="115" y="65">1 &gt;</text></g>
<g id="SupplyEmissionsData" transform="translate(1626 90)"><rect class="h" width="154" height="24"/><rect class="b" y="24" width="154" height="24"/><rect class="f" y="48" width="154" height="24"/><path d="M52 48v24M125 48v24"/><text class="c" x="77" y="17">SupplyEmissionsData</text><text x="4" y="41">...</text><text x="5" y="65">&lt; 6</text><text class="r" x="120" y="65">57 rows</text></g>
<g id="SupplyEfficiencyData" transform="translate(1629 190)"><rect class="h" width="147" height="24"/><rect class="b" y="24" width="147" height="192"/><rect class="k" y="216" width="147" height="24"/><rect class="f" y="240" width="147" height="24"/><path d="M0 48h147M0 72h147M0 96h147M0 120h147M0 144h147M0 168h147M0 192h147M39 240v24M123 240v24"/><text class="c" x="73.5" y="17">SupplyEfficiencyData</text><text x="4" y="41">parent_id</text><text x="4" y="65">gau_id</text><text x="4" y="89">efficiency_type_id</text><text x="4" y="113">demand_sector_id</text><text x="4" y="137">supply_node_id</text><text x="4" y="161">resource_bin</text><text x="4" y="185">year</text><text x="4" y="209">value</text><text x="4" y="233">id</text><text x="5" y="257">&lt; 5</text><text class="r" x="118" y="257">1,225 rows</text></g>
<g id="SupplyTechsEfficiencyData" transform="translate(1609 482)"><rect class="h" width="188" height="24"/><rect class="b" y="24" width="188" height="24"/><rect class="f" y="48" width="188" height="24"/><path d="M59 48v24M155 48v24"/><text class="c" x="94" y="17">SupplyTechsEfficiencyData</text><text x="4" y="41">...</text><text x="5" y="65">&lt; 5</text><text class="r" x="150" y="65">4,556 rows</text></g>
<g id="PrimaryCostData" transform="translate(1642 582)"><rect class="h" width="122" height="24"/><rect class="b" y="24" width="122" height="24"/><rect class="f" y="48" width="122" height="24"/><path d="M32 48v24M103 48v24"/><text class="c" x="61" y="17">PrimaryCostData</text><text x="4" y="41">...</text><text x="5" y="65">&lt; 4</text><text class="r" x="98" y="65">848 rows</text></g>
<g id="SupplyStockData" transform="translate(1635 688)"><rect class="h" width="136" height="24"/><rect class="b" y="24" width="136" height="24"/><rect class="f" y="48" width="136" height="24"/><path d="M28 48v24M117 48v24"/><text class="c" x="68" y="17">SupplyStockData</text><text x="4" y="41">...</text><text x="5" y="65">&lt; 4</text><text class="r" x="112" y="65">26,338 rows</text></g>
<g id="SupplySalesShareData" transform="translate(1622 800)"><rect class="h" width="161" height="24"/><rect class="b" y="24" width="161" height="24"/><rect class="f" y="48" width="161" height="24"/><path d="M54 48v24M129 48v24"/><text class="c" x="80.5" y="17">SupplySalesShareData</text><text x="4" y="41">...</text><text x="5" y="65">&lt; 4</text><text class="r" x="124" y="65">13 rows</text></g>
<g id="SupplyStates" transform="translate(1642 1105)"><rect class="h" width="120" height="24"/><rect class="b" y="24" width="120" height="24"/><rect class="f" y="48" width="120" height="24"/><path d="M30 48v24M91 48v24"/><text class="c" x="60" y="17">SupplyStates</text><text x="4" y="41">...</text><text x="5" y="65">&lt; 8</text><text class="r" x="86" y="65">97 rows</text><text class="r" x="115" y="65">1 &gt;</text></g>
<g id="SupplySalesShareMeasures" transform="translate(1606 1876)"><rect class="h" width="194" height="24"/><rect class="b" y="24" width="194" height="24"/><rect class="f" y="48" width="194" height="24"/><path d="M66 48v24M146 48v24"/><text class="c" x="97" y="17">SupplySalesShareMeasures</text><text x="4" y="41">...</text><text x="5" y="65">&lt; 7</text><text class="r" x="141" y="65">18 rows</text><text class="r" x="189" y="65">2 &gt;</text></g>
<g id="SupplySalesMeasures" transform="translate(1626 3060)"><rect class="h" width="154" height="24"/><rect class="b" y="24" width="154" height="24"/><rect class="f" y="48" width="154" height="24"/><path d="M53 48v24M111 48v24"/><text class="c" x="77" y="17">SupplySalesMeasures</text><text x="4" y="41">...</text><text x="5" y="65">&lt; 7</text><text class="r" x="106" y="65">1 row</text><text class="r" x="149" y="65">1 &gt;</text></g>
<g id="StorageTechsEnergyCapitalCost" transform="translate(1592 3166)"><rect class="h" width="222" height="24"/><rect class="b" y="24" width="222" height="24"/><rect class="f" y="48" width="222" height="24"/><path d="M87 48v24M162 48v24"/><text class="c" x="111" y="17">StorageTechsEnergyCapitalCost</text><text x="4" y="41">...</text><text x="5" y="65">&lt; 8</text><text class="r" x="157" y="65">1 row</text><text class="r" x="217" y="65">1 &gt;</text></g>
<g id="SupplyTechsEfficiency" transform="translate(1623 3280)"><rect class="h" width="158" height="24"/><rect class="b" y="24" width="158" height="24"/><rect class="f" y="48" width="158" height="24"/><path d="M45 48v24M121 48v24"/><text class="c" x="79" y="17">SupplyTechsEfficiency</text><text x="4" y="41">...</text><text x="5" y="65">&lt; 7</text><text class="r" x="116" y="65">113 rows</text><text class="r" x="153" y="65">1 &gt;</text></g>
<g id="SupplyTechsCapacityFactor" transform="translate(1606 3406)"><rect class="h" width="194" height="24"/><rect class="b" y="24" width="194" height="24"/><rect class="f" y="48" width="194" height="24"/><path d="M66 48v24M146 48v24"/><text class="c" x="97" y="17">SupplyTechsCapacityFactor</text><text x="4" y="41">...</text><text x="5" y="65">&lt; 7</text><text class="r" x="141" y="65">52 rows</text><text class="r" x="189" y="65">1 &gt;</text></g>
<g id="SupplyTechsFixedMaintenanceCost" transform="translate(1582 3560)"><rect class="h" width="242" height="24"/><rect class="b" y="24" width="242" height="24"/><rect class="f" y="48" width="242" height="24"/><path d="M90 48v24M182 48v24"/><text class="c" x="121" y="17">SupplyTechsFixedMaintenanceCost</text><text x="4" y="41">...</text><text x="5" y="65">&lt; 9</text><text class="r" x="177" y="65">77 rows</text><text class="r" x="237" y="65">1 &gt;</text></g>
<g id="SupplyTechsCO2Capture" transform="translate(1615 3767)"><rect class="h" width="176" height="24"/><rect class="b" y="24" width="176" height="24"/><rect class="f" y="48" width="176" height="24"/><path d="M57 48v24M133 48v24"/><text class="c" x="88" y="17">SupplyTechsCO2Capture</text><text x="4" y="41">...</text><text x="5" y="65">&lt; 7</text><text class="r" x="128" y="65">28 rows</text><text class="r" x="171" y="65">1 &gt;</text></g>
<g id="SupplyTechsVariableMaintenanceCost" transform="translate(1573 4082)"><rect class="h" width="259" height="24"/><rect class="b" y="24" width="259" height="24"/><rect class="f" y="48" width="259" height="24"/><path d="M99 48v24M195 48v24"/><text class="c" x="129.5" y="17">SupplyTechsVariableMaintenanceCost</text><text x="4" y="41">...</text><text x="5" y="65">&lt; 9</text><text class="r" x="190" y="65">81 rows</text><text class="r" x="254" y="65">1 &gt;</text></g>
<g id="SupplyTechsInstallationCost" transform="translate(1606 4613)"><rect class="h" width="194" height="24"/><rect class="b" y="24" width="194" height="24"/><rect class="f" y="48" width="194" height="24"/><path d="M66 48v24M146 48v24"/><text class="c" x="97" y="17">SupplyTechsInstallationCost</text><text x="4" y="41">...</text><text x="5" y="65">&lt; 8</text><text class="r" x="141" y="65">33 rows</text><text class="r" x="189" y="65">1 &gt;</text></g>
<g id="SupplyStockMeasures" transform="translate(1626 5036)"><rect class="h" width="154" height="24"/><rect class="b" y="24" width="154" height="24"/><rect class="f" y="48" width="154" height="24"/><path d="M46 48v24M115 48v24"/><text class="c" x="77" y="17">SupplyStockMeasures</text><text x="4" y="41">...</text><text x="5" y="65">&lt; 7</text><text class="r" x="110" y="65">60 rows</text><text class="r" x="149" y="65">2 &gt;</text></g>
<g id="StorageTechsCapacityCapitalCost" transform="translate(1586 5177)"><rect class="h" width="234" height="24"/><rect class="b" y="24" width="234" height="24"/><rect class="f" y="48" width="234" height="24"/><path d="M90 48v24M174 48v24"/><text class="c" x="117" y="17">StorageTechsCapacityCapitalCost</text><text x="4" y="41">...</text><text x="5" y="65">&lt; 8</text><text class="r" x="169" y="65">2 rows</text><text class="r" x="229" y="65">1 &gt;</text></g>
<g id="SupplyTechsCapitalCost" transform="translate(1619 5639)"><rect class="h" width="168" height="24"/><rect class="b" y="24" width="168" height="24"/><rect class="f" y="48" width="168" height="24"/><path d="M49 48v24M129 48v24"/><text class="c" x="84" y="17">SupplyTechsCapitalCost</text><text x="4" y="41">...</text><text x="5" y="65">&lt; 9</text><text class="r" x="124" y="65">104 rows</text><text class="r" x="163" y="65">1 &gt;</text></g>
<g id="SupplyTypes" transform="translate(702 556)"><rect class="h" width="101" height="24"/><rect class="b" y="24" width="101" height="24"/><rect class="f" y="48" width="101" height="24"/><path d="M18 48v24M71 48v24"/><text class="c" x="50.5" y="17">SupplyTypes</text><text x="4" y="41">...</text><text class="r" x="66" y="65">6 rows</text><text class="r" x="96" y="65">1 &gt;</text></g>
<g id="SupplyNodes" transform="translate(955 556)"><rect class="h" width="192" height="24"/><rect class="b" y="24" width="192" height="528"/><rect class="k" y="24" width="192" height="24"/><rect class="f" y="552" width="192" height="24"/><path d="M0 72h192M0 96h192M0 120h192M0 144h192M0 168h192M0 192h192M0 216h192M0 240h192M0 264h192M0 288h192M0 312h192M0 336h192M0 360h192M0 384h192M0 408h192M0 432h192M0 456h192M0 480h192M0 504h192M0 528h192M57 552v24M140 552v24"/><text class="c" x="96" y="17">SupplyNodes</text><text x="4" y="41">id</text><text x="4" y="65">name</text><text x="4" y="89">supply_type_id</text><text x="4" y="113">tradable_geography_id</text><text x="4" y="137">is_active</text><text x="4" y="161">final_energy_link</text><text x="4" y="185">is_curtailable</text><text x="4" y="209">is_exportable</text><text x="4" y="233">is_flexible</text><text x="4" y="257">residual_supply_node_id</text><text x="4" y="281">mean_lifetime</text><text x="4" y="305">lifetime_variance</text><text x="4" y="329">max_lifetime</text><text x="4" y="353">min_lifetime</text><text x="4" y="377">stock_decay_function_id</text><text x="4" y="401">cost_of_capital</text><text x="4" y="425">book_life</text><text x="4" y="449">geography_map_key_id</text><text x="4" y="473">shape_id</text><text x="4" y="497">max_lag_hours</text><text x="4" y="521">max_lead_hours</text><text x="4" y="545">enforce_potential_constraint</text><text x="5" y="569">&lt; 7</text><text class="r" x="135" y="569">107 rows</text><text class="r" x="187" y="569">38 &gt;</text></g>
<g id="DemandServiceDemandMeasuresCost" transform="translate(619 1519)"><rect class="h" width="266" height="24"/><rect class="b" y="24" width="266" height="24"/><rect class="f" y="48" width="266" height="24"/><path d="M113 48v24M208 48v24"/><text class="c" x="133" y="17">DemandServiceDemandMeasuresCost</text><text x="4" y="41">...</text><text x="5" y="65">&lt; 8</text><text class="r" x="203" y="65">0 rows</text></g>
<g id="DemandEnergyEfficiencyMeasuresCost" transform="translate(617 1619)"><rect class="h" width="269" height="24"/><rect class="b" y="24" width="269" height="24"/><rect class="f" y="48" width="269" height="24"/><path d="M110 48v24M211 48v24"/><text class="c" x="134.5" y="17">DemandEnergyEfficiencyMeasuresCost</text><text x="4" y="41">...</text><text x="5" y="65">&lt; 8</text><text class="r" x="206" y="65">55 rows</text></g>
<g id="FinalEnergy" transform="translate(688 3504)"><rect class="h" width="128" height="24"/><rect class="b" y="24" width="128" height="24"/><rect class="f" y="48" width="128" height="24"/><path d="M29 48v24M90 48v24"/><text class="c" x="64" y="17">FinalEnergy</text><text x="4" y="41">...</text><text x="5" y="65">&lt; 1</text><text class="r" x="85" y="65">27 rows</text><text class="r" x="123" y="65">11 &gt;</text></g>
<g id="DemandTechsAuxEfficiency" transform="translate(955 3505)"><rect class="h" width="193" height="24"/><rect class="b" y="24" width="193" height="24"/><rect class="f" y="48" width="193" height="24"/><path d="M80 48v24M155 48v24"/><text class="c" x="96.5" y="17">DemandTechsAuxEfficiency</text><text x="4" y="41">...</text><text x="5" y="65">&lt; 10</text><text class="r" x="150" y="65">6 rows</text></g>
<g id="DemandTechsMainEfficiency" transform="translate(953 3606)"><rect class="h" width="198" height="24"/><rect class="b" y="24" width="198" height="24"/><rect class="f" y="48" width="198" height="24"/><path d="M68 48v24M153 48v24"/><text class="c" x="99" y="17">DemandTechsMainEfficiency</text><text x="4" y="41">...</text><text x="5" y="65">&lt; 11</text><text class="r" x="148" y="65">226 rows</text><text class="r" x="193" y="65">1 &gt;</text></g>
<g id="DemandEnergyDemands" transform="translate(665 4865)"><rect class="h" width="175" height="24"/><rect class="b" y="24" width="175" height="24"/><rect class="f" y="48" width="175" height="24"/><path d="M60 48v24M134 48v24"/><text class="c" x="87.5" y="17">DemandEnergyDemands</text><text x="4" y="41">...</text><text x="5" y="65">&lt; 12</text><text class="r" x="129" y="65">47 rows</text><text class="r" x="170" y="65">1 &gt;</text></g>
<g id="DemandServiceDemands" transform="translate(664 4968)"><rect class="h" width="177" height="24"/><rect class="b" y="24" width="177" height="24"/><rect class="f" y="48" width="177" height="24"/><path d="M61 48v24M135 48v24"/><text class="c" x="88.5" y="17">DemandServiceDemands</text><text x="4" y="41">...</text><text x="5" y="65">&lt; 12</text><text class="r" x="130" y="65">17 rows</text><text class="r" x="172" y="65">1 &gt;</text></g>
<g id="DemandStock" transform="translate(688 5068)"><rect class="h" width="128" height="24"/><rect class="b" y="24" width="128" height="24"/><rect class="f" y="48" width="128" height="24"/><path d="M37 48v24M99 48v24"/><text class="c" x="64" y="17">DemandStock</text><text x="4" y="41">...</text><text x="5" y="65">&lt; 13</text><text class="r" x="94" y="65">24 rows</text><text class="r" x="123" y="65">1 &gt;</text></g>
<g id="DemandServiceDemandMeasures" transform="translate(276 1484)"><rect class="h" width="234" height="24"/><rect class="b" y="24" width="234" height="24"/><rect class="f" y="48" width="234" height="24"/><path d="M86 48v24M175 48v24"/><text class="c" x="117" y="17">DemandServiceDemandMeasures</text><text x="4" y="41">...</text><text x="5" y="65">&lt; 8</text><text class="r" x="170" y="65">15 rows</text><text class="r" x="229" y="65">4 &gt;</text></g>
<g id="DemandEnergyEfficiencyMeasures" transform="translate(274 1728)"><rect class="h" width="237" height="24"/><rect class="b" y="24" width="237" height="24"/><rect class="f" y="48" width="237" height="24"/><path d="M88 48v24M179 48v24"/><text class="c" x="118.5" y="17">DemandEnergyEfficiencyMeasures</text><text x="4" y="41">...</text><text x="5" y="65">&lt; 8</text><text class="r" x="174" y="65">72 rows</text><text class="r" x="232" y="65">4 &gt;</text></g>
<g id="DemandCO2CaptureMeasures" transform="translate(287 1828)"><rect class="h" width="212" height="24"/><rect class="b" y="24" width="212" height="24"/><rect class="f" y="48" width="212" height="24"/><path d="M85 48v24M167 48v24"/><text class="c" x="106" y="17">DemandCO2CaptureMeasures</text><text x="4" y="41">...</text><text x="5" y="65">&lt; 8</text><text class="r" x="162" y="65">0 rows</text></g>
<g id="DemandTechsServiceLink" transform="translate(302 1928)"><rect class="h" width="181" height="24"/><rect class="b" y="24" width="181" height="24"/><rect class="f" y="48" width="181" height="24"/><path d="M60 48v24M136 48v24"/><text class="c" x="90.5" y="17">DemandTechsServiceLink</text><text x="4" y="41">...</text><text x="5" y="65">&lt; 9</text><text class="r" x="131" y="65">40 rows</text><text class="r" x="176" y="65">1 &gt;</text></g>
<g id="DemandFlexibleLoadMeasures" transform="translate(289 2028)"><rect class="h" width="208" height="24"/><rect class="b" y="24" width="208" height="24"/><rect class="f" y="48" width="208" height="24"/><path d="M77 48v24M154 48v24"/><text class="c" x="104" y="17">DemandFlexibleLoadMeasures</text><text x="4" y="41">...</text><text x="5" y="65">&lt; 5</text><text class="r" x="149" y="65">9 rows</text><text class="r" x="203" y="65">2 &gt;</text></g>
<g id="DemandFuelSwitchingMeasuresCost" transform="translate(267 2128)"><rect class="h" width="251" height="24"/><rect class="b" y="24" width="251" height="24"/><rect class="f" y="48" width="251" height="24"/><path d="M104 48v24M195 48v24"/><text class="c" x="125.5" y="17">DemandFuelSwitchingMeasuresCost</text><text x="4" y="41">...</text><text x="5" y="65">&lt; 8</text><text class="r" x="190" y="65">6 rows</text></g>
<g id="DemandFuelSwitchingMeasuresEnergyIntensity" transform="translate(234 2227)"><rect class="h" width="318" height="24"/><rect class="b" y="24" width="318" height="24"/><rect class="f" y="48" width="318" height="24"/><path d="M134 48v24M247 48v24"/><text class="c" x="159" y="17">DemandFuelSwitchingMeasuresEnergyIntensity</text><text x="4" y="41">...</text><text x="5" y="65">&lt; 6</text><text class="r" x="242" y="65">30 rows</text></g>
<g id="DemandFuelSwitchingMeasuresImpact" transform="translate(260 2327)"><rect class="h" width="264" height="24"/><rect class="b" y="24" width="264" height="24"/><rect class="f" y="48" width="264" height="24"/><path d="M107 48v24M207 48v24"/><text class="c" x="132" y="17">DemandFuelSwitchingMeasuresImpact</text><text x="4" y="41">...</text><text x="5" y="65">&lt; 7</text><text class="r" x="202" y="65">30 rows</text></g>
<g id="DemandSales" transform="translate(332 2428)"><rect class="h" width="121" height="24"/><rect class="b" y="24" width="121" height="24"/><rect class="f" y="48" width="121" height="24"/><path d="M30 48v24M92 48v24"/><text class="c" x="60.5" y="17">DemandSales</text><text x="4" y="41">...</text><text x="5" y="65">&lt; 7</text><text class="r" x="87" y="65">10 rows</text><text class="r" x="116" y="65">1 &gt;</text></g>
<g id="DemandSalesMeasures" transform="translate(310 2528)"><rect class="h" width="165" height="24"/><rect class="b" y="24" width="165" height="24"/><rect class="f" y="48" width="165" height="24"/><path d="M48 48v24M127 48v24"/><text class="c" x="82.5" y="17">DemandSalesMeasures</text><text x="4" y="41">...</text><text x="5" y="65">&lt; 8</text><text class="r" x="122" y="65">357 rows</text><text class="r" x="160" y="65">2 &gt;</text></g>
<g id="DemandStockMeasures" transform="translate(310 2628)"><rect class="h" width="165" height="24"/><rect class="b" y="24" width="165" height="24"/><rect class="f" y="48" width="165" height="24"/><path d="M56 48v24M123 48v24"/><text class="c" x="82.5" y="17">DemandStockMeasures</text><text x="4" y="41">...</text><text x="5" y="65">&lt; 6</text><text class="r" x="118" y="65">5 rows</text><text class="r" x="160" y="65">2 &gt;</text></g>
<g id="DemandTechsCapitalCost" transform="translate(302 2728)"><rect class="h" width="181" height="24"/><rect class="b" y="24" width="181" height="24"/><rect class="f" y="48" width="181" height="24"/><path d="M56 48v24M139 48v24"/><text class="c" x="90.5" y="17">DemandTechsCapitalCost</text><text x="4" y="41">...</text><text x="5" y="65">&lt; 9</text><text class="r" x="134" y="65">231 rows</text><text class="r" x="176" y="65">1 &gt;</text></g>
<g id="DemandTechsFixedMaintenanceCost" transform="translate(266 2828)"><rect class="h" width="253" height="24"/><rect class="b" y="24" width="253" height="24"/><rect class="f" y="48" width="253" height="24"/><path d="M96 48v24M195 48v24"/><text class="c" x="126.5" y="17">DemandTechsFixedMaintenanceCost</text><text x="4" y="41">...</text><text x="5" y="65">&lt; 11</text><text class="r" x="190" y="65">176 rows</text><text class="r" x="248" y="65">2 &gt;</text></g>
<g id="DemandTechsFuelSwitchCost" transform="translate(289 2928)"><rect class="h" width="209" height="24"/><rect class="b" y="24" width="209" height="24"/><rect class="f" y="48" width="209" height="24"/><path d="M77 48v24M158 48v24"/><text class="c" x="104.5" y="17">DemandTechsFuelSwitchCost</text><text x="4" y="41">...</text><text x="5" y="65">&lt; 10</text><text class="r" x="153" y="65">11 rows</text><text class="r" x="204" y="65">1 &gt;</text></g>
<g id="DemandTechsInstallationCost" transform="translate(289 3028)"><rect class="h" width="207" height="24"/><rect class="b" y="24" width="207" height="24"/><rect class="f" y="48" width="207" height="24"/><path d="M75 48v24M166 48v24"/><text class="c" x="103.5" y="17">DemandTechsInstallationCost</text><text x="4" y="41">...</text><text x="5" y="65">&lt; 9</text><text class="r" x="161" y="65">126 rows</text></g>
<g id="DemandTechsParasiticEnergy" transform="translate(289 3128)"><rect class="h" width="209" height="24"/><rect class="b" y="24" width="209" height="24"/><rect class="f" y="48" width="209" height="24"/><path d="M83 48v24M164 48v24"/><text class="c" x="104.5" y="17">DemandTechsParasiticEnergy</text><text x="4" y="41">...</text><text x="5" y="65">&lt; 8</text><text class="r" x="159" y="65">6 rows</text></g>
<g id="DemandTechsServiceDemandModifier" transform="translate(262 3228)"><rect class="h" width="261" height="24"/><rect class="b" y="24" width="261" height="24"/><rect class="f" y="48" width="261" height="24"/><path d="M105 48v24M205 48v24"/><text class="c" x="130.5" y="17">DemandTechsServiceDemandModifier</text><text x="4" y="41">...</text><text x="5" y="65">&lt; 7</text><text class="r" x="200" y="65">19 rows</text></g>
<g id="Shapes" transform="translate(328 3504)"><rect class="h" width="129" height="24"/><rect class="b" y="24" width="129" height="24"/><rect class="f" y="48" width="129" height="24"/><path d="M38 48v24M99 48v24"/><text class="c" x="64.5" y="17">Shapes</text><text x="4" y="41">...</text><text x="5" y="65">&lt; 10</text><text class="r" x="94" y="65">35 rows</text><text class="r" x="124" y="65">5 &gt;</text></g>
<g id="DemandServiceEfficiency" transform="translate(305 4072)"><rect class="h" width="177" height="24"/><rect class="b" y="24" width="177" height="24"/><rect class="f" y="48" width="177" height="24"/><path d="M67 48v24M140 48v24"/><text class="c" x="88.5" y="17">DemandServiceEfficiency</text><text x="4" y="41">...</text><text x="5" y="65">&lt; 7</text><text class="r" x="135" y="65">3 rows</text></g>
<g id="DispatchFeedersAllocation" transform="translate(302 4536)"><rect class="h" width="182" height="24"/><rect class="b" y="24" width="182" height="24"/><rect class="f" y="48" width="182" height="24"/><path d="M75 48v24M143 48v24"/><text class="c" x="91" y="17">DispatchFeedersAllocation</text><text x="4" y="41">...</text><text x="5" y="65">&lt; 2</text><text class="r" x="138" y="65">1 row</text></g>
<g id="DemandDrivers" transform="translate(328 4984)"><rect class="h" width="129" height="24"/><rect class="b" y="24" width="129" height="24"/><rect class="f" y="48" width="129" height="24"/><path d="M30 48v24M91 48v24"/><text class="c" x="64.5" y="17">DemandDrivers</text><text x="4" y="41">...</text><text x="5" y="65">&lt; 8</text><text class="r" x="86" y="65">60 rows</text><text class="r" x="124" y="65">14 &gt;</text></g>
<g id="StockDecayFunctions" transform="translate(16 1245)"><rect class="h" width="152" height="24"/><rect class="b" y="24" width="152" height="24"/><rect class="f" y="48" width="152" height="24"/><path d="M43 48v24M109 48v24"/><text class="c" x="76" y="17">StockDecayFunctions</text><text x="4" y="41">...</text><text class="r" x="104" y="65">3 rows</text><text class="r" x="147" y="65">7 &gt;</text></g>
<g id="Geographies" transform="translate(35 1345)"><rect class="h" width="116" height="24"/><rect class="k" y="24" width="116" height="24"/><rect class="i" y="48" width="116" height="24"/><rect class="f" y="72" width="116" height="24"/><path d="M17 72v24M78 72v24"/><text class="c" x="58" y="17">Geographies</text><text x="4" y="41">id</text><text x="4" y="65">name</text><text class="r" x="73" y="89">12 rows</text><text class="r" x="111" y="89">54 &gt;</text></g>
<g id="CleaningMethods" transform="translate(32 3867)"><rect class="h" width="121" height="24"/><rect class="k" y="24" width="121" height="24"/><rect class="i" y="48" width="121" height="24"/><rect class="f" y="72" width="121" height="24"/><path d="M20 72v24M75 72v24"/><text class="c" x="60.5" y="17">CleaningMethods</text><text x="4" y="41">id</text><text x="4" y="65">name</text><text class="r" x="70" y="89">8 rows</text><text class="r" x="116" y="89">108 &gt;</text></g>
<g id="GeographyMapKeys" transform="translate(22 5332)"><rect class="h" width="141" height="24"/><rect class="b" y="24" width="141" height="24"/><rect class="f" y="48" width="141" height="24"/><path d="M30 48v24M97 48v24"/><text class="c" x="70.5" y="17">GeographyMapKeys</text><text x="4" y="41">...</text><text class="r" x="92" y="65">57 rows</text><text class="r" x="136" y="65">14 &gt;</text></g>
</g>
<text class="gen" x="16" y="5877">Generated by SchemaSpy</text>
</svg>
